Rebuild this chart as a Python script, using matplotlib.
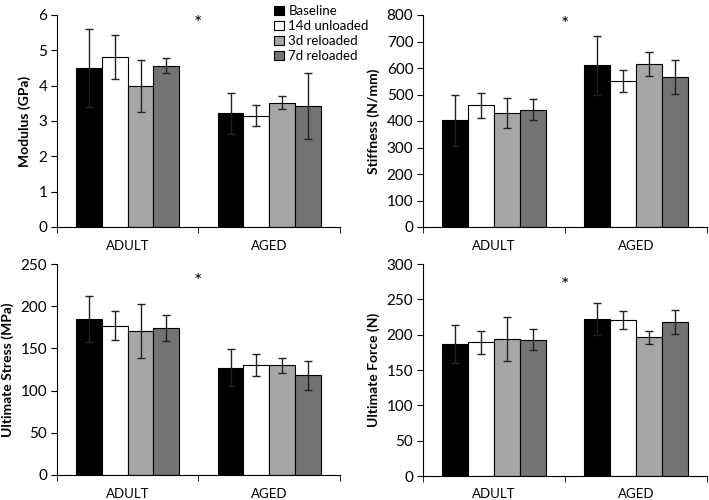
import matplotlib.pyplot as plt
import numpy as np
from matplotlib.patches import Patch

plt.rcParams['font.family'] = ['Lato', 'DejaVu Sans']

groups = ['ADULT', 'AGED']
series = ['Baseline', '14d unloaded', '3d reloaded', '7d reloaded']
colors = ['#000000', '#ffffff', '#a6a6a6', '#737373']

modulus = [[4.50, 3.22], [4.80, 3.15], [4.00, 3.52], [4.57, 3.42]]
modulus_err = [[1.10, 0.58], [0.62, 0.30], [0.74, 0.18], [0.22, 0.93]]

stiffness = [[402, 610], [460, 552], [430, 615], [443, 567]]
stiffness_err = [[97, 110], [47, 42], [58, 46], [40, 65]]

stress = [[185, 127], [177, 130], [171, 130], [174, 118]]
stress_err = [[27, 22], [17, 13], [32, 9], [15, 17]]

force = [[187, 222], [189, 221], [194, 196], [193, 218]]
force_err = [[27, 23], [16, 13], [31, 9], [15, 17]]

panels = [
    (modulus, modulus_err, 'Modulus (GPa)', 6, 1, 5.75),
    (stiffness, stiffness_err, 'Stiffness (N/mm)', 800, 100, 766),
    (stress, stress_err, 'Ultimate Stress (MPa)', 250, 50, 229),
    (force, force_err, 'Ultimate Force (N)', 300, 50, 270),
]

# axes rectangles in figure fraction
rects = [
    [0.0804, 0.546, 0.399, 0.424],
    [0.5966, 0.546, 0.401, 0.424],
    [0.0804, 0.050, 0.399, 0.422],
    [0.5966, 0.048, 0.401, 0.424],
]

fig = plt.figure(figsize=(7.09, 5.0), dpi=100)

x = np.arange(len(groups))
w = 0.182
for (vals, errs, label, ymax, step, star), rect in zip(panels, rects):
    ax = fig.add_axes(rect)
    for i in range(len(series)):
        ax.bar(x + (i - 1.5) * w, vals[i], w, yerr=errs[i], color=colors[i],
               edgecolor='black', linewidth=0.8, capsize=3,
               error_kw=dict(elinewidth=1.0, capthick=1.0, ecolor='#222222'))
    ax.set_xlim(-0.5, 1.5)
    ax.set_ylim(0, ymax)
    ax.set_yticks(np.arange(0, ymax + step / 2, step))
    ax.set_xticks(x)
    ax.set_xticklabels(groups, fontsize=9.5)
    ax.set_xticks([-0.5, 0.5, 1.5], minor=True)
    ax.tick_params(axis='x', which='major', length=0, pad=9)
    ax.tick_params(axis='x', which='minor', length=4, direction='out')
    ax.tick_params(axis='y', labelsize=11, length=4, direction='out', pad=3)
    ax.spines['top'].set_visible(False)
    ax.spines['right'].set_visible(False)
    ax.spines['left'].set_linewidth(0.8)
    ax.spines['bottom'].set_linewidth(0.8)
    ax.set_ylabel(label, fontsize=10, fontweight='bold', labelpad=5)
    ax.text(0.5, star, '*', ha='center', va='center', fontsize=14)

handles = [Patch(facecolor=c, edgecolor='black', linewidth=0.8) for c in colors]
fig.legend(handles, series, loc='upper left', bbox_to_anchor=(0.374, 1.008),
           frameon=False, fontsize=9.5, handlelength=0.75, handleheight=0.75,
           handletextpad=0.3, labelspacing=0.22, borderpad=0.2)

fig.savefig('out.png', dpi=100)
